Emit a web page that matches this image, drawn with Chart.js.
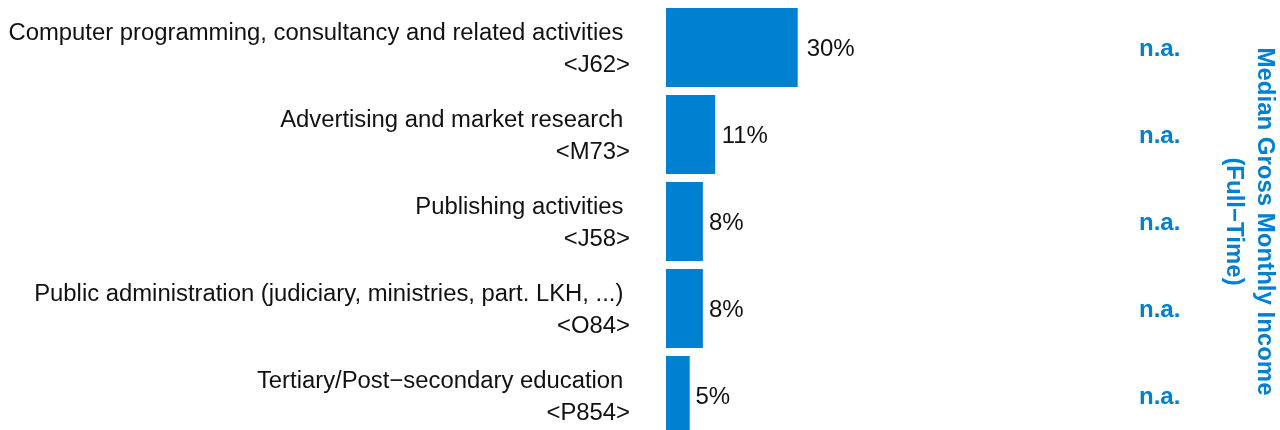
<!DOCTYPE html>
<html>
<head>
<meta charset="utf-8">
<script src="https://cdn.jsdelivr.net/npm/chart.js@4.4.1/dist/chart.umd.min.js"></script>
<style>
  html, body { margin: 0; padding: 0; overflow: hidden; background: #fff; }
</style>
</head>
<body>
<canvas id="shareChart" width="1280" height="439"></canvas>
<script>
// Data
var industryNames = [
    'Computer programming, consultancy and related activities',
    'Advertising and market research',
    'Publishing activities',
    'Public administration (judiciary, ministries, part. LKH, ...)',
    'Tertiary/Post\u2212secondary education'
];
var industryCodes = ['<J62>', '<M73>', '<J58>', '<O84>', '<P854>'];
var shareValues = [30.0, 11.2, 8.4, 8.4, 5.4]; // percent of graduates
var incomeValues = ['n.a.', 'n.a.', 'n.a.', 'n.a.', 'n.a.'];
var incomeTitle = ['Median Gross Monthly Income', '(Full\u2212Time)'];

var blue = '#0080d0';
var textColor = '#111111';
var fontFamily = "'Liberation Sans', Arial, Helvetica, sans-serif";

// two-line labels: name (with trailing space like the original) + code
var categoryLabels = industryNames.map(function (name, i) {
    return [name + ' ', industryCodes[i]];
});

// draws "30%" etc. right of each bar
var valueLabelPlugin = {
    id: 'valueLabels',
    afterDatasetsDraw: function (chart) {
        var ctx = chart.ctx;
        var meta = chart.getDatasetMeta(0);
        var xScale = chart.scales.x;
        ctx.save();
        ctx.font = '24px ' + fontFamily;
        ctx.fillStyle = textColor;
        ctx.textAlign = 'left';
        ctx.textBaseline = 'middle';
        meta.data.forEach(function (bar, i) {
            var len = bar.x - xScale.left;
            ctx.fillText(Math.round(shareValues[i]) + '%', bar.x + 5 + len * 0.03, bar.y + 1.5);
        });
        ctx.restore();
    }
};

// fixed axis widths, no extra top/bottom padding from the tall labels
function fixWidth(w) {
    return function (scale) {
        scale.width = w;
        scale.paddingTop = 0;
        scale.paddingBottom = 0;
    };
}

var ctx = document.getElementById('shareChart').getContext('2d');
var chart = new Chart(ctx, {
    type: 'bar',
    data: {
        labels: categoryLabels,
        datasets: [{
            data: shareValues,
            backgroundColor: blue,
            borderWidth: 0,
            barPercentage: 0.908,
            categoryPercentage: 1.0
        }]
    },
    options: {
        indexAxis: 'y',
        responsive: false,
        animation: false,
        layout: { padding: { top: 4, left: 0, right: 0, bottom: 0 } },
        plugins: {
            legend: { display: false },
            tooltip: { enabled: false }
        },
        scales: {
            x: {
                display: false,
                min: 0,
                max: 100
            },
            y: {
                position: 'left',
                grid: { display: false, drawTicks: false },
                border: { display: false },
                ticks: {
                    color: textColor,
                    padding: 36,
                    labelOffset: 2,
                    font: { family: fontFamily, size: 23.85, lineHeight: 1.34 }
                },
                afterFit: fixWidth(666)
            },
            y2: {
                type: 'category',
                position: 'right',
                labels: incomeValues,
                offset: true,
                grid: { display: false, drawTicks: false },
                border: { display: false },
                ticks: {
                    color: blue,
                    padding: 34,
                    labelOffset: 1.5,
                    font: { family: fontFamily, size: 24, weight: 'bold' }
                },
                title: {
                    display: true,
                    text: incomeTitle,
                    color: blue,
                    padding: { top: 0, bottom: 0 },
                    font: { family: fontFamily, size: 24, weight: 'bold', lineHeight: 1.3 }
                },
                afterFit: fixWidth(175)
            }
        }
    },
    plugins: [valueLabelPlugin]
});
</script>
</body>
</html>
